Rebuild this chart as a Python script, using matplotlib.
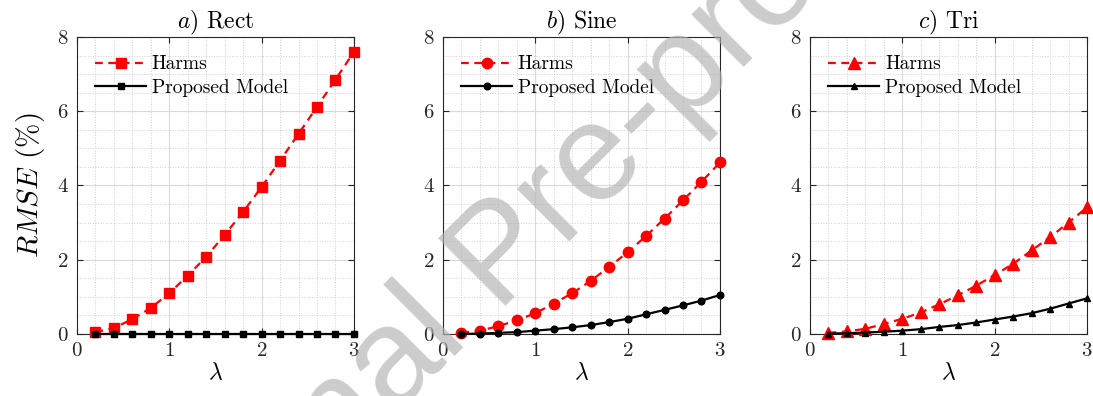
import numpy as np
import matplotlib
matplotlib.use("Agg")
import matplotlib.pyplot as plt
from matplotlib.ticker import MultipleLocator

plt.rcParams['font.family'] = 'serif'
plt.rcParams['font.serif'] = ['cmr10', 'DejaVu Serif']
plt.rcParams['mathtext.fontset'] = 'cm'
plt.rcParams['axes.formatter.use_mathtext'] = True

# lambda values
lam = [0.2, 0.4, 0.6, 0.8, 1.0, 1.2, 1.4, 1.6, 1.8, 2.0, 2.2, 2.4, 2.6, 2.8, 3.0]

# RMSE (%)
rect_harms = [0.05, 0.16, 0.40, 0.70, 1.10, 1.57, 2.08, 2.67, 3.29, 3.96, 4.67, 5.39, 6.12, 6.85, 7.60]
rect_model = [0.0, 0.0, 0.0, 0.0, 0.0, 0.0, 0.0, 0.0, 0.0, 0.0, 0.0, 0.0, 0.0, 0.0, 0.0]
sine_harms = [0.03, 0.09, 0.21, 0.37, 0.56, 0.82, 1.10, 1.43, 1.81, 2.20, 2.64, 3.11, 3.60, 4.10, 4.62]
sine_model = [0.0, 0.01, 0.03, 0.05, 0.09, 0.13, 0.18, 0.24, 0.32, 0.41, 0.53, 0.65, 0.77, 0.90, 1.05]
tri_harms = [0.03, 0.07, 0.14, 0.27, 0.41, 0.58, 0.80, 1.04, 1.30, 1.59, 1.89, 2.25, 2.61, 3.00, 3.41]
tri_model = [0.01, 0.02, 0.04, 0.06, 0.09, 0.13, 0.19, 0.24, 0.31, 0.39, 0.47, 0.56, 0.68, 0.82, 0.96]

titles = [r'$a)$ Rect', r'$b)$ Sine', r'$c)$ Tri']
harms = [rect_harms, sine_harms, tri_harms]
model = [rect_model, sine_model, tri_model]
markers = ['s', 'o', '^']
msize_red = [7, 7.5, 8.5]
msize_blk = [4, 4.8, 5]

fig = plt.figure(figsize=(10.93, 3.96), dpi=100)
lefts = [0.0704, 0.4053, 0.7411]
dark = '#262626'

for i in range(3):
    ax = fig.add_axes([lefts[i], 0.1566, 0.2534, 0.75])
    ax.plot(lam, harms[i], '--', color='red', marker=markers[i], markersize=msize_red[i],
            linewidth=1.6, dashes=(3.5, 2.5), label='Harms', clip_on=False, zorder=3)
    ax.plot(lam, model[i], '-', color='black', marker=markers[i], markersize=msize_blk[i],
            linewidth=1.6, label='Proposed Model', clip_on=False, zorder=4)
    ax.set_xlim(0, 3)
    ax.set_ylim(0, 8)
    ax.set_xticks([0, 1, 2, 3])
    ax.set_yticks([0, 2, 4, 6, 8])
    ax.xaxis.set_minor_locator(MultipleLocator(0.2))
    ax.yaxis.set_minor_locator(MultipleLocator(0.5))
    ax.grid(True, which='major', color='#d9d9d9', linewidth=0.8)
    ax.grid(True, which='minor', color='#d0d0d0', linestyle=':', linewidth=0.7)
    ax.set_axisbelow(True)
    ax.tick_params(which='both', direction='in', top=True, right=True, colors=dark,
                   labelsize=15)
    ax.tick_params(which='minor', length=0)
    ax.tick_params(which='major', length=4, pad=6)
    for s in ax.spines.values():
        s.set_color(dark)
        s.set_linewidth(0.8)
    ax.set_title(titles[i], fontsize=17, pad=5)
    ax.set_xlabel(r'$\lambda$', fontsize=17, labelpad=1)
    if i == 0:
        ax.set_ylabel(r'$RMSE$ (%)', fontsize=21, labelpad=7)
    ax.legend(loc='upper left', frameon=False, fontsize=14, handlelength=2.6,
              borderaxespad=0.55, labelspacing=0.3, handletextpad=0.3)

# watermark
fig.text(0.46, 0.35, 'Journal Pre-proof', fontsize=100, family='Liberation Sans',
         color=(0.7, 0.7, 0.7), alpha=0.67, rotation=45, ha='center', va='center',
         rotation_mode='anchor')

fig.savefig('out.png', dpi=100)
